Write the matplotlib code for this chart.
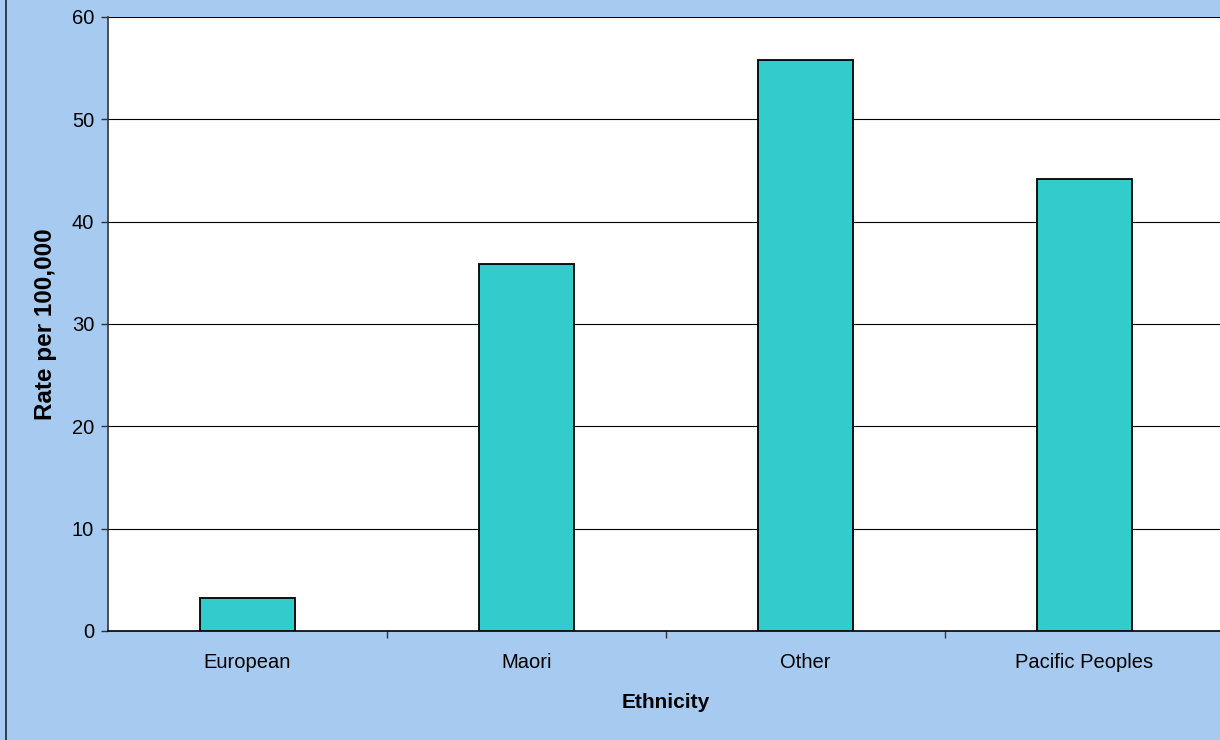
import matplotlib
matplotlib.use("Agg")
import matplotlib.pyplot as plt
from matplotlib.lines import Line2D

plt.rcParams['font.family'] = ['Liberation Sans', 'DejaVu Sans']

# data
categories = ['European', 'Maori', 'Other', 'Pacific Peoples']
rates = [3.2, 35.9, 55.8, 44.2]
yticks = [0, 10, 20, 30, 40, 50, 60]

bg = '#A6CAF0'
bar_col = '#33CCCC'

fig = plt.figure(figsize=(12.2, 7.4), dpi=100, facecolor=bg)
# plot area runs off the right edge like the original
ax = fig.add_axes([108 / 1220, 1 - 631 / 740, 1116 / 1220, 614 / 740])
ax.set_facecolor('white')

x = range(len(categories))
ax.bar(x, rates, width=0.337, color=bar_col, edgecolor='black', linewidth=1.3, zorder=3)

ax.set_xlim(-0.5, len(categories) - 0.5)
ax.set_ylim(0, 60)
ax.set_yticks(yticks)
ax.yaxis.grid(True, color='black', linewidth=0.8, zorder=0)
ax.tick_params(axis='y', labelsize=14.5, length=5, width=1, color='#333333', pad=5)

# category labels between the boundary ticks
ax.set_xticks([i + 0.5 for i in range(len(categories) - 1)])
ax.set_xticklabels([])
ax.set_xticks(list(x), minor=True)
ax.set_xticklabels(categories, minor=True, fontsize=14.5)
ax.tick_params(axis='x', which='minor', length=0, pad=16)
ax.tick_params(axis='x', which='major', length=5, width=1, color='#333333')

for s in ['top', 'right']:
    ax.spines[s].set_visible(False)
ax.spines['left'].set_color('#333333')
ax.spines['left'].set_linewidth(1.2)
ax.spines['bottom'].set_color('black')
ax.spines['bottom'].set_linewidth(1.2)

ax.set_ylabel('Rate per 100,000', fontsize=17.5, fontweight='bold')
ax.yaxis.set_label_coords(-0.0457, 0.5)
ax.set_xlabel('Ethnicity', fontsize=15, fontweight='bold', va='top')
ax.xaxis.set_label_coords(0.5, -0.101)

# dark frame edge on the left
fig.add_artist(Line2D([5.5 / 1220, 5.5 / 1220], [0, 1], transform=fig.transFigure,
                      color='#222222', linewidth=1.2))

fig.savefig('out.png', dpi=100, facecolor=bg)
